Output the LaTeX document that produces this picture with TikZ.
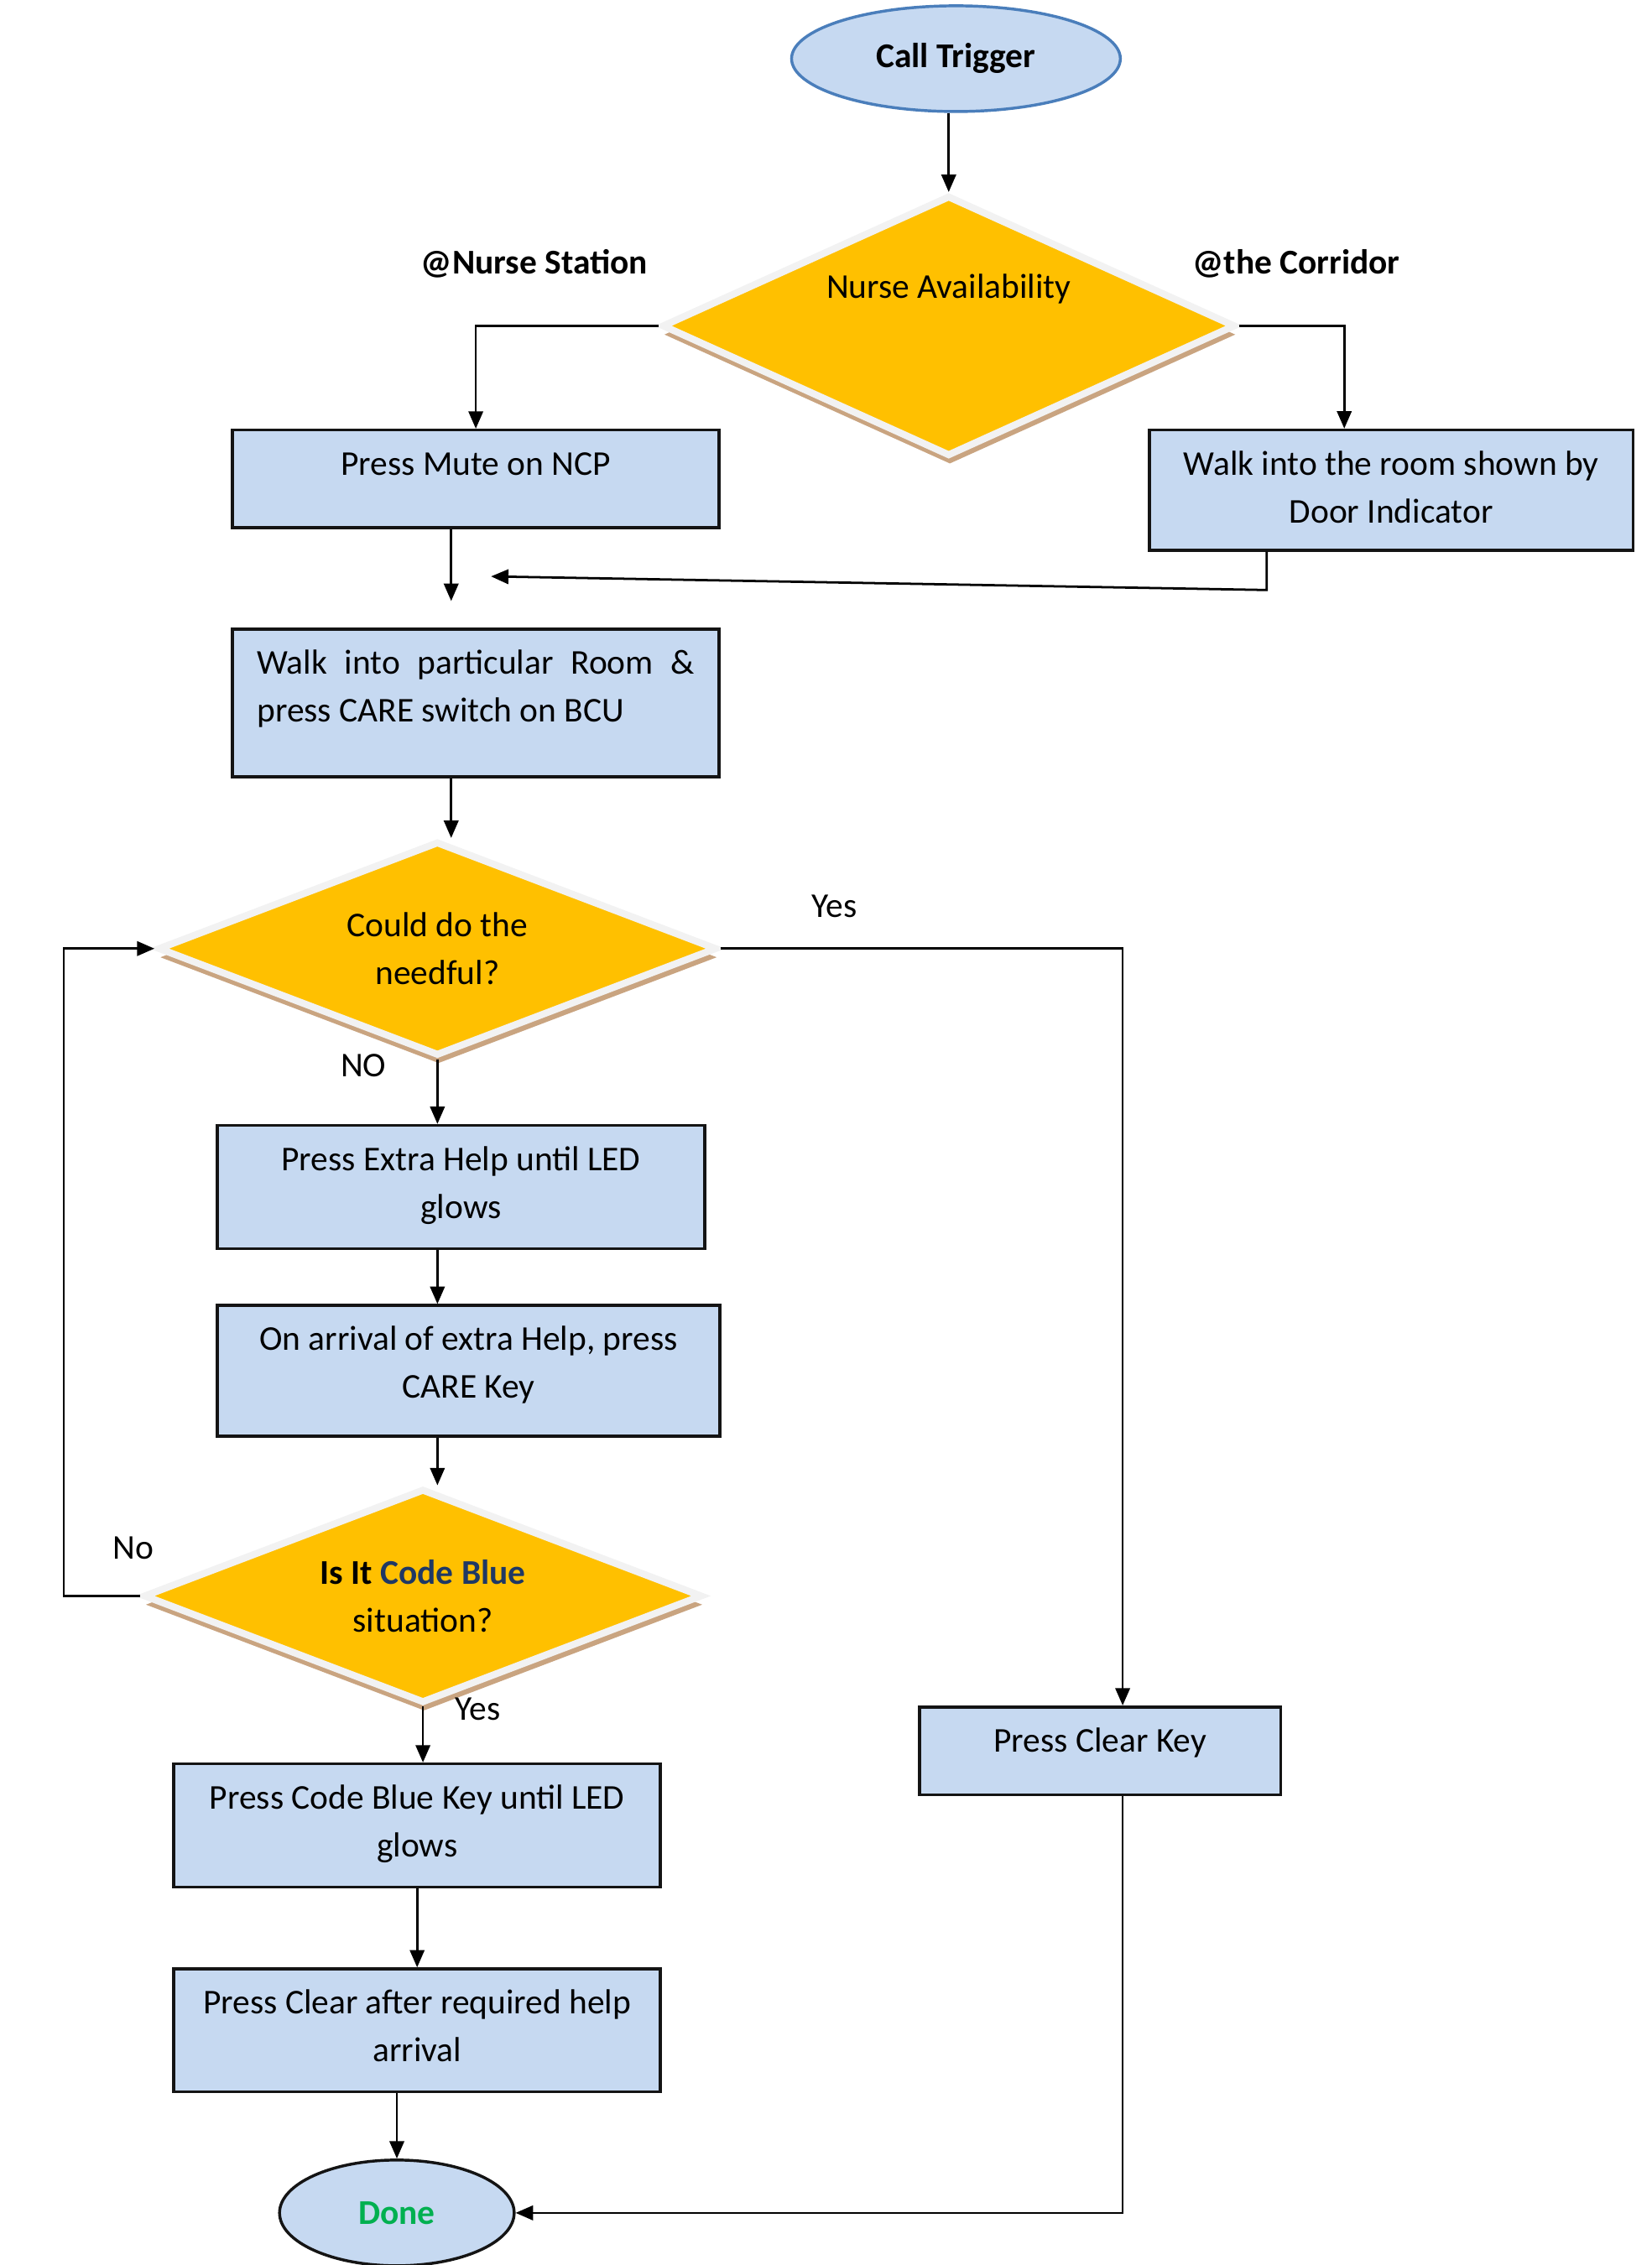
\documentclass[tikz,border=0pt]{standalone}
\usepackage{fontspec}
\setmainfont{Carlito}
\usetikzlibrary{shapes.geometric,arrows.meta,shadows}

\definecolor{boxfill}{RGB}{198,217,241}
\definecolor{boxline}{RGB}{20,20,20}
\definecolor{ovalline}{RGB}{74,126,187}
\definecolor{decfill}{RGB}{255,192,0}
\definecolor{decline}{RGB}{242,242,242}
\definecolor{dshadow}{RGB}{201,164,128}
\definecolor{codeblue}{RGB}{31,56,100}
\definecolor{donegreen}{RGB}{0,176,80}

\tikzset{every picture/.style={line width=0.8pt},
  flowbox/.style 2 args={rectangle, draw=boxline, line width=1pt, fill=boxfill, inner xsep=4pt, inner ysep=0pt, text height=15.5pt, text width=#1, text depth=#2, align=flush center},
  oval/.style={ellipse, draw=ovalline, line width=1pt, fill=boxfill, inner sep=0pt},
  decision/.style={diamond, aspect=2.5, draw=decline, line width=2.4pt, fill=decfill, inner sep=0pt, align=flush center, drop shadow={shadow xshift=0.4pt, shadow yshift=-3pt, fill=dshadow, opacity=1}},
  arr/.style={-{Triangle[length=6pt,width=5pt]}, line width=0.8pt},
  lbl/.style={inner sep=0.75pt}
}

\begin{document}
\begin{tikzpicture}[x=0.5pt,y=0.5pt,yscale=-1,xscale=1,font=\fontsize{12}{16.5}\selectfont]
\useasboundingbox (0,0) rectangle (1140,1564);

%Shape: Ellipse
\node [oval, minimum width=113.5pt, minimum height=36.5pt] (call) at (660,40.5) {\textbf{Call Trigger}};
%Shape: Diamond
\node [decision, minimum width=198pt, minimum height=90pt, text height=9pt, text depth=27.8pt] (navail) at (655,225) {Nurse Availability};
%Shape: Rectangle
\node [flowbox={160pt}{18.2pt}] (mute) at (328.5,330.7) {Press Mute on NCP};
%Shape: Rectangle
\node [flowbox={159pt}{26pt}] (walkroom) at (960.5,338.4) {Walk into the room shown by\\Door Indicator};
%Shape: Rectangle
\node [flowbox={151pt}{35.5pt}, inner xsep=8.5pt, align=justify] (walkpart) at (328.5,485.5) {Walk into particular Room \&\linebreak press CARE switch on BCU};
%Shape: Diamond
\node [decision, minimum width=193pt, minimum height=74pt] (needful) at (302,655) {Could do the\\needful?};
%Shape: Rectangle
\node [flowbox={160.3pt}{27pt}] (extrahelp) at (318.3,819.6) {Press Extra Help until LED\\glows};
%Shape: Rectangle
\node [flowbox={165.5pt}{29.7pt}] (arrival) at (323.5,946.6) {On arrival of extra Help, press\\CARE Key};
%Shape: Diamond
\node [decision, minimum width=193pt, minimum height=74pt] (codeblue) at (292,1102) {\textbf{Is It \textcolor{codeblue}{Code Blue}}\\situation?};
%Shape: Rectangle
\node [flowbox={160pt}{27pt}] (cbkey) at (288,1260.5) {Press Code Blue Key until LED\\glows};
%Shape: Rectangle
\node [flowbox={160pt}{27pt}] (clearafter) at (288,1402) {Press Clear after required help\\arrival};
%Shape: Ellipse
\node [oval, draw=boxline, minimum width=81pt, minimum height=36.5pt] (done) at (274,1528) {\textbf{\textcolor{donegreen}{Done}}};
%Shape: Rectangle
\node [flowbox={116.6pt}{14.85pt}] (clearkey) at (759.5,1209) {Press Clear Key};

% Text Node
\node [lbl] (lblstation) at (369,182) {\textbf{@Nurse Station}};
% Text Node
\node [lbl] (lblcorridor) at (895,182) {\textbf{@the Corridor}};
% Text Node
\node [lbl] (lblyesa) at (576,626) {Yes};
% Text Node
\node [lbl] (lblnoa) at (251,736) {NO};
% Text Node
\node [lbl] (lblnob) at (92,1069) {No};
% Text Node
\node [lbl] (lblyesb) at (330,1180) {Yes};

%free ends and bends
\coordinate (mergept) at (311.5,415);
\coordinate (walkturn) at (874.5,407.4);
\coordinate (mergein) at (339,398);
\coordinate (loopx) at (44,884);

%Straight Lines
\draw [arr] (call.south -| navail.north) -- (navail.north);
\draw [arr] (navail.west) -| (mute.north);
\draw [arr] (navail.east) -| ([xshift=-16.2pt]walkroom.north);
\draw [arr] (mute.south -| mergept) -- (mergept);
\draw [arr] (walkroom.south -| walkturn) -- (walkturn) -- (mergein);
\draw [arr] (walkpart.south -| mergept) -- (needful.north -| mergept);
\draw [arr] (needful.east) -| ([xshift=7.8pt]clearkey.north);
\draw [arr] (needful.south) -- (needful.south |- extrahelp.north);
\draw [arr] (extrahelp.south -| needful.south) -- (arrival.north -| needful.south);
\draw [arr] (arrival.south -| needful.south) -- (codeblue.north -| needful.south);
\draw [arr] (codeblue.west) -- (codeblue.west -| loopx) |- (needful.west);
\draw [arr] (codeblue.south) -- (codeblue.south |- cbkey.north);
\draw [arr] (cbkey) -- (clearafter);
\draw [arr] (clearafter.south -| done.north) -- (done.north);
\draw [arr] ([xshift=7.8pt]clearkey.south) |- (done.east);

\end{tikzpicture}
\end{document}
